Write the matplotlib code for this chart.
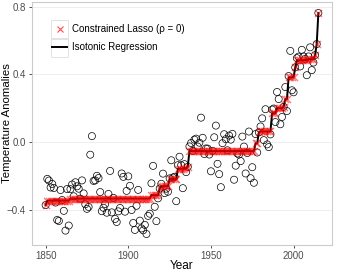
import numpy as np
import matplotlib
matplotlib.use("Agg")
import matplotlib.pyplot as plt
from matplotlib.lines import Line2D
from matplotlib.patches import Rectangle

# yearly global temperature anomalies, 1850-2015
years = np.arange(1850, 2016)
anomaly = [
    -0.373, -0.218, -0.228, -0.269, -0.248, -0.272, -0.358, -0.461, -0.467, -0.284,
    -0.343, -0.407, -0.524, -0.278, -0.494, -0.279, -0.251, -0.321, -0.238, -0.262,
    -0.276, -0.335, -0.227, -0.304, -0.368, -0.395, -0.384, -0.075, 0.035, -0.230,
    -0.227, -0.200, -0.213, -0.296, -0.409, -0.389, -0.367, -0.418, -0.307, -0.171,
    -0.416, -0.330, -0.455, -0.473, -0.410, -0.390, -0.186, -0.206, -0.412, -0.289,
    -0.203, -0.259, -0.402, -0.479, -0.520, -0.377, -0.283, -0.465, -0.511, -0.522,
    -0.490, -0.544, -0.437, -0.424, -0.244, -0.141, -0.383, -0.468, -0.333, -0.275,
    -0.247, -0.187, -0.302, -0.276, -0.294, -0.215, -0.108, -0.210, -0.206, -0.350,
    -0.137, -0.087, -0.137, -0.273, -0.131, -0.178, -0.147, -0.026, -0.006, -0.052,
    0.014, 0.020, -0.027, -0.004, 0.144, 0.025, -0.071, -0.038, -0.039, -0.074,
    -0.173, -0.052, 0.028, 0.097, -0.129, -0.190, -0.267, -0.007, 0.046, 0.017,
    -0.049, 0.038, 0.014, 0.048, -0.223, -0.140, -0.068, -0.074, -0.113, 0.032,
    -0.027, -0.186, -0.065, 0.062, -0.214, -0.149, -0.241, 0.047, -0.062, 0.057,
    0.092, 0.140, 0.011, 0.194, -0.014, -0.030, 0.045, 0.192, 0.198, 0.118,
    0.296, 0.254, 0.105, 0.148, 0.208, 0.325, 0.183, 0.390, 0.539, 0.306,
    0.294, 0.441, 0.496, 0.505, 0.447, 0.545, 0.506, 0.491, 0.395, 0.506,
    0.560, 0.425, 0.470, 0.514, 0.579, 0.763,
]
anomaly = np.array(anomaly)
legend_labels = ['Constrained Lasso (\u03c1 = 0)', 'Isotonic Regression']


# isotonic fit (pool adjacent violators) -- same as constrained lasso with rho = 0
def pava(y):
    blocks = []  # [mean, count]
    for v in y:
        blocks.append([v, 1])
        while len(blocks) > 1 and blocks[-2][0] > blocks[-1][0]:
            m2, n2 = blocks.pop()
            m1, n1 = blocks.pop()
            blocks.append([(m1 * n1 + m2 * n2) / (n1 + n2), n1 + n2])
    out = []
    for m, n in blocks:
        out += [m] * n
    return np.array(out)


fit = pava(anomaly)

plt.rcParams['font.family'] = ['Liberation Sans', 'DejaVu Sans']

W, H = 337, 272
fig = plt.figure(figsize=(W / 100, H / 100), dpi=100)
ax = fig.add_axes([32 / W, 27 / H, 300 / W, 243 / H])

ax.scatter(years, anomaly, s=26, facecolors='none', edgecolors='black', linewidths=0.5, zorder=2)
ax.plot(years, fit, color='black', lw=1.4, zorder=3)
ax.scatter(years, fit, marker='x', s=26, color='#ff0000', alpha=0.5, linewidths=1.0, zorder=4)

ax.set_xlim(1841.75, 2023.25)
ax.set_ylim(-0.609, 0.828)
ax.set_xticks([1850, 1900, 1950, 2000])
ax.set_yticks([-0.4, 0.0, 0.4, 0.8])
ax.set_yticklabels(['\u22120.4', '0.0', '0.4', '0.8'])
ax.grid(axis='y', color='#ebebeb', lw=0.6)
ax.set_axisbelow(True)
for s in ax.spines.values():
    s.set_color('#cccccc')
    s.set_linewidth(0.8)
ax.tick_params(labelsize=7, colors='#333333', length=2.5, width=0.6, pad=2)
ax.tick_params(axis='both', labelcolor='#4d4d4d')
ax.set_xlabel('Year', fontsize=8.5)
ax.set_ylabel('Temperature Anomalies', fontsize=8.2)
ax.xaxis.set_label_coords(0.5, -0.062)
ax.yaxis.set_label_coords(-0.066, 0.5)

# legend drawn by hand: key boxes + labels (ggplot style)
def fx(px):
    return px / W


def fy(py):
    return 1 - py / H


for i, top in enumerate([20, 39]):
    fig.add_artist(Rectangle((fx(51), fy(top + 18)), 17 / W, 18 / H, transform=fig.transFigure,
                             facecolor='white', edgecolor='#dddddd', lw=0.6, zorder=5))
fig.add_artist(Line2D([fx(59.5)], [fy(29)], marker='x', ls='none', color='#ff0000', alpha=0.7,
                      markersize=5, mew=0.8, transform=fig.transFigure, zorder=6))
fig.add_artist(Line2D([fx(52), fx(67)], [fy(47.5), fy(47.5)], color='black', lw=1.4,
                      transform=fig.transFigure, zorder=6))
for label, yc in zip(legend_labels, [29, 47.5]):
    fig.text(fx(72), fy(yc), label, fontsize=7, va='center', ha='left', color='black', zorder=6)

fig.savefig('out.png', dpi=100)
